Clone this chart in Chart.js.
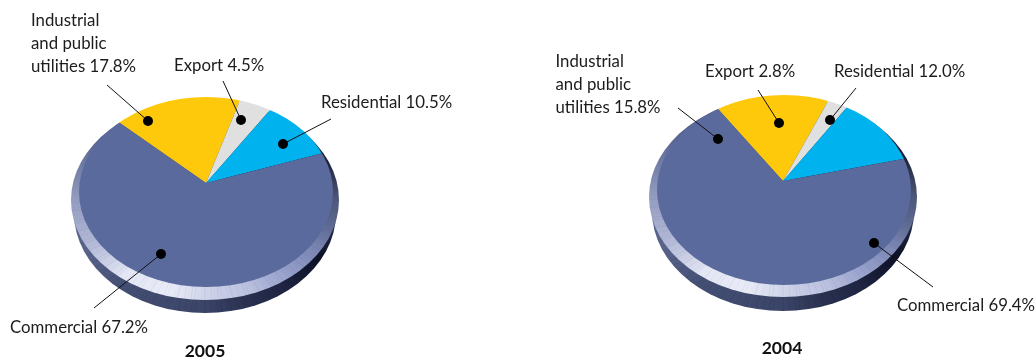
<!DOCTYPE html>
<html>
<head>
<meta charset="utf-8">
<title>Sales by customer group</title>
<script src="https://cdn.jsdelivr.net/npm/chart.js@4/dist/chart.umd.min.js"></script>
<style>
    html, body { margin: 0; padding: 0; background: #fff; overflow: hidden; }
    #charts { display: flex; width: 1036px; height: 358px; }
    canvas { display: block; }
</style>
</head>
<body>
<div id="charts">
    <canvas id="chart2005" width="518" height="358"></canvas>
    <canvas id="chart2004" width="518" height="358"></canvas>
</div>
<script>
const categories = ['Industrial and public utilities', 'Export', 'Residential', 'Commercial'];
const values2005 = [17.8, 4.5, 10.5, 67.2];
const values2004 = [15.8, 2.8, 12.0, 69.4];
const sliceColors = ['#ffc90b', '#e0e0e0', '#00b2ee', '#5a6a9c'];

const LABEL_FONT = '16.8px Lato';
const YEAR_FONT = 'bold 17.5px Lato';

// Stops of the rim shading, clockwise from the right-hand side
const bevelStops = [
    [0, '#4e5879'], [0.03, '#5d6890'], [0.07, '#7d88b5'], [0.12, '#98a2cc'], [0.18, '#bcc2e0'], [0.25, '#d0d5ea'],
    [0.31, '#e9ecf7'], [0.38, '#e4e7f4'], [0.44, '#b4bbd8'], [0.5, '#949dc0'], [0.53, '#7a86ad'],
    [0.57, '#5d6a94'], [0.63, '#4a5578'], [0.8, '#3a4468'], [0.89, '#12172c'], [0.95, '#1a2038'], [1, '#4e5879']
];
const sideStops = [
    [0, '#2c3350'], [0.06, '#0e1226'], [0.12, '#1e2442'], [0.18, '#2a3150'], [0.25, '#3b4568'], [0.38, '#434e73'],
    [0.45, '#59648b'], [0.5, '#5a6690'], [0.75, '#2c3350'], [1, '#2c3350']
];

function conicFill(ctx, shape, stops) {
    const fill = ctx.createConicGradient(0, shape.cx, shape.cy);
    stops.forEach(([at, color]) => fill.addColorStop(at, color));
    return fill;
}

function fillEllipse(ctx, shape, fillStyle) {
    ctx.beginPath();
    ctx.ellipse(shape.cx, shape.cy, shape.rx, shape.ry, 0, 0, Math.PI * 2);
    ctx.fillStyle = fillStyle;
    ctx.fill();
}

// Thin radial hairlines on the rim, masked later by the layers above
function drawStreaks(ctx, shape, rgb) {
    const pattern = [0.10, 0.02, 0.07, 0.0, 0.13, 0.04, 0.0, 0.09];
    ctx.save();
    ctx.beginPath();
    ctx.ellipse(shape.cx, shape.cy, shape.rx, shape.ry, 0, 0, Math.PI * 2);
    ctx.clip();
    ctx.lineWidth = 0.8;
    for (let i = 0; i < 120; i++) {
        const angle = Math.PI * i / 120;
        ctx.strokeStyle = 'rgba(' + rgb + ',' + pattern[i % pattern.length] + ')';
        ctx.beginPath();
        ctx.moveTo(shape.cx, shape.cy);
        ctx.lineTo(shape.cx + Math.cos(angle) * shape.rx * 1.1, shape.cy + Math.sin(angle) * shape.ry * 1.1);
        ctx.stroke();
    }
    ctx.restore();
}

// Squashes the pie into the tilted top face and draws the rim underneath it
const tiltedPie = {
    id: 'tiltedPie',
    beforeDatasetsDraw(chart, args, opts) {
        const ctx = chart.ctx;
        const area = chart.chartArea;
        const apexX = (area.left + area.right) / 2;
        const apexY = (area.top + area.bottom) / 2;

        fillEllipse(ctx, opts.side, conicFill(ctx, opts.side, sideStops));
        drawStreaks(ctx, opts.side, '8,10,24');
        fillEllipse(ctx, opts.bevel, conicFill(ctx, opts.bevel, bevelStops));
        drawStreaks(ctx, opts.bevel, '70,80,130');

        ctx.save();
        ctx.beginPath();
        ctx.ellipse(opts.face.cx, opts.face.cy, opts.face.rx, opts.face.ry, 0, 0, Math.PI * 2);
        ctx.clip();
        ctx.translate(apexX, apexY);
        ctx.scale(1, opts.face.ry / opts.face.rx);
        ctx.translate(-apexX, -apexY);
    },
    afterDatasetsDraw(chart) {
        chart.ctx.restore();
    }
};

// Leader lines, dots and the text around each pie
const callouts = {
    id: 'callouts',
    afterDraw(chart, args, opts) {
        const ctx = chart.ctx;
        ctx.save();
        ctx.strokeStyle = '#111';
        ctx.fillStyle = '#000';
        ctx.lineWidth = 1;
        opts.leaders.forEach(([x1, y1, x2, y2]) => {
            ctx.beginPath();
            ctx.moveTo(x1, y1);
            ctx.lineTo(x2, y2);
            ctx.stroke();
            ctx.beginPath();
            ctx.arc(x2, y2, 5, 0, Math.PI * 2);
            ctx.fill();
        });

        ctx.fillStyle = '#1c1c1c';
        ctx.font = LABEL_FONT;
        ctx.textAlign = 'left';
        ctx.textBaseline = 'alphabetic';
        opts.texts.forEach(([text, x, y]) => ctx.fillText(text, x, y));

        ctx.fillStyle = '#111';
        ctx.font = YEAR_FONT;
        ctx.textAlign = 'center';
        ctx.fillText(opts.year, opts.yearX, opts.yearY);
        ctx.restore();
    }
};

function renderPie(canvasId, values, rotation, padding, geometry, notes) {
    new Chart(document.getElementById(canvasId), {
        type: 'pie',
        data: {
            labels: categories,
            datasets: [{
                data: values,
                backgroundColor: sliceColors,
                borderWidth: 0,
                clip: false
            }]
        },
        options: {
            responsive: false,
            animation: false,
            rotation: rotation,
            radius: 190,
            layout: { padding: padding },
            plugins: {
                legend: { display: false },
                tooltip: { enabled: false },
                tiltedPie: geometry,
                callouts: notes
            }
        },
        plugins: [tiltedPie, callouts]
    });
}

function share(i, values) {
    return values[i].toFixed(1) + '%';
}

renderPie('chart2005', values2005, -47, { right: 106, top: 8 }, {
    face: { cx: 206, cy: 192, rx: 127, ry: 95 },
    bevel: { cx: 205, cy: 200, rx: 134, ry: 100 },
    side: { cx: 205, cy: 213, rx: 131, ry: 100 }
}, {
    year: '2005', yearX: 205, yearY: 357,
    leaders: [[107, 85, 148, 121], [223, 81, 241, 120], [331, 119, 283, 144], [94, 308, 161, 254]],
    texts: [
        ['Industrial', 31, 26],
        ['and public', 31, 49],
        ['utilities ' + share(0, values2005), 31, 72],
        [categories[1] + ' ' + share(1, values2005), 174, 71],
        [categories[2] + ' ' + share(2, values2005), 321, 108],
        [categories[3] + ' ' + share(3, values2005), 10, 333]
    ]
});

renderPie('chart2004', values2004, -34, { left: 12, top: 4 }, {
    face: { cx: 266, cy: 190, rx: 127, ry: 95 },
    bevel: { cx: 265, cy: 197, rx: 134, ry: 100 },
    side: { cx: 265, cy: 211, rx: 131, ry: 100 }
}, {
    year: '2004', yearX: 264, yearY: 354,
    leaders: [[160, 108, 200, 139], [240, 90, 261, 123], [338, 88, 312, 120], [415, 287, 356, 243]],
    texts: [
        ['Industrial', 37.5, 67],
        ['and public', 37.5, 90],
        ['utilities ' + share(0, values2004), 37.5, 113],
        [categories[1] + ' ' + share(1, values2004), 187, 77],
        [categories[2] + ' ' + share(2, values2004), 316, 77],
        [categories[3] + ' ' + share(3, values2004), 379, 311]
    ]
});
</script>
</body>
</html>
